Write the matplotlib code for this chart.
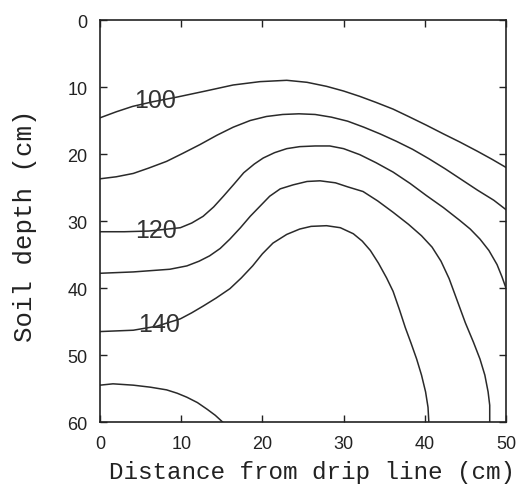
import matplotlib
matplotlib.use("Agg")
import matplotlib.pyplot as plt

# contour lines: (distance cm, depth cm)
levels = [100, 110, 120, 130, 140, 150]

x100 = [0, 2, 4, 6.5, 9.5, 13, 16.4, 19.7, 23, 25.5, 27.9, 30, 32, 34, 36.1, 38, 40.2, 42.3, 44.3, 46.5, 48.3, 50]
y100 = [14.6, 13.7, 12.9, 12.2, 11.5, 10.6, 9.7, 9.2, 9.0, 9.3, 9.9, 10.6, 11.4, 12.3, 13.3, 14.4, 15.7, 17.0, 18.2, 19.6, 20.8, 22.0]

x110 = [0, 2, 4.1, 6, 8.2, 10.2, 12.3, 14.4, 16.4, 18.5, 20.5, 22.5, 24.5, 26.5, 28.5, 30.5, 32.5, 34.5, 36.5, 38.5, 40.5, 42.5, 44.5, 46.5, 48.5, 50]
y110 = [23.7, 23.4, 22.9, 22.1, 21.1, 19.9, 18.6, 17.2, 16.0, 15.0, 14.4, 14.1, 14.0, 14.1, 14.5, 15.1, 16.0, 17.0, 18.1, 19.3, 20.7, 22.2, 23.8, 25.4, 26.9, 28.3]

x120 = [0, 3, 6, 9.9, 11.3, 12.7, 14, 15.2, 16.5, 17.7, 19, 20.1, 21.5, 23, 24.6, 26.5, 28.3, 30, 32, 34, 36.1, 38.2, 40.2, 42.3, 44.3, 45.6, 46.8, 47.9, 48.9, 49.5, 50]
y120 = [31.6, 31.6, 31.5, 31.0, 30.3, 29.3, 27.9, 26.3, 24.5, 22.8, 21.5, 20.6, 19.8, 19.2, 18.9, 18.8, 18.8, 19.2, 20.1, 21.3, 22.7, 24.4, 26.2, 28.0, 29.9, 31.2, 32.7, 34.4, 36.5, 38.3, 40.0]

x130 = [0, 4.1, 8.6, 10.7, 12.2, 13.5, 14.8, 16, 17.3, 18.5, 19.7, 20.9, 22.2, 23.8, 25.5, 27.1, 29, 30.5, 32.4, 34.2, 36.1, 38, 39.6, 40.9, 42.0, 43.0, 44.0, 45.0, 46.0, 46.8, 47.4, 47.8, 48, 48]
y130 = [37.8, 37.6, 37.2, 36.7, 36.0, 35.2, 34.1, 32.7, 31.0, 29.3, 27.8, 26.3, 25.2, 24.6, 24.1, 24.0, 24.3, 24.9, 25.6, 27.0, 28.7, 30.5, 32.2, 33.9, 36.0, 38.6, 41.9, 45.2, 48.1, 50.6, 53.0, 55.5, 57.5, 60]

x140 = [0, 4.1, 7, 9.9, 11.3, 12.7, 14.3, 16, 17.4, 18.8, 20, 21.3, 23, 24.6, 26, 27.9, 29.6, 31.2, 32.3, 33.3, 34.3, 35.3, 36.1, 36.9, 37.6, 38.3, 39, 39.6, 40.1, 40.4, 40.5]
y140 = [46.5, 46.3, 45.7, 44.6, 43.7, 42.7, 41.5, 40.1, 38.5, 36.7, 34.9, 33.3, 32.0, 31.2, 30.8, 30.7, 31.0, 31.9, 33.0, 34.4, 36.3, 38.5, 40.5, 43.3, 45.9, 48.2, 50.6, 53.0, 55.5, 57.8, 60]

x150 = [0, 1.6, 4.1, 6.2, 8.2, 9.5, 10.7, 12, 13.2, 14.2, 15.1]
y150 = [54.5, 54.3, 54.5, 54.8, 55.2, 55.7, 56.3, 57.1, 58.1, 59.0, 60]

lines_x = [x100, x110, x120, x130, x140, x150]
lines_y = [y100, y110, y120, y130, y140, y150]

# inline labels
label_text = ["100", "120", "140"]
label_x = [6.8, 6.9, 7.3]
label_y = [12.0, 31.3, 45.3]

xticks = [0, 10, 20, 30, 40, 50]
yticks = [0, 10, 20, 30, 40, 50, 60]

fig = plt.figure(figsize=(5.2, 4.85), dpi=100)
ax = fig.add_axes([0.1923, 0.1278, 0.7807, 0.8289])

for xs, ys in zip(lines_x, lines_y):
    ax.plot(xs, ys, color="#2a2a2a", lw=1.1)

for t, lx, ly in zip(label_text, label_x, label_y):
    ax.text(lx, ly, t, ha="center", va="center", fontsize=18,
            family="Liberation Sans", color="#333333")

ax.set_xlim(0, 50)
ax.set_ylim(60, 0)
ax.set_xticks(xticks)
ax.set_yticks(yticks)
ax.tick_params(direction="in", length=5, width=1, top=True, right=True,
               labelsize=13, pad=9, colors="#222222")
for lab in ax.get_xticklabels() + ax.get_yticklabels():
    lab.set_family("Liberation Sans")
for s in ax.spines.values():
    s.set_linewidth(1.2)
    s.set_color("#222222")

fig.text(0.60, 0.025, "Distance from drip line (cm)", ha="center", va="center",
         fontsize=17.5, family="Liberation Mono", color="#222222")
fig.text(0.048, 0.535, "Soil depth (cm)", ha="center", va="center", rotation=90,
         fontsize=18.5, family="Liberation Mono", color="#222222")

fig.savefig("out.png", dpi=100)
